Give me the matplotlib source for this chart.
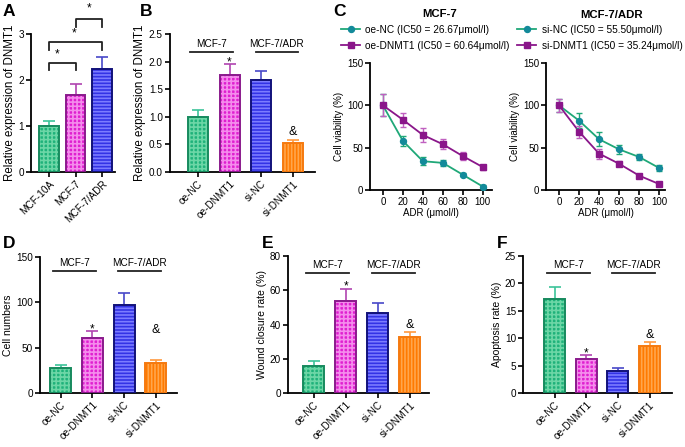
import matplotlib.pyplot as plt
import numpy as np

plt.rcParams["font.family"] = ["Liberation Sans", "DejaVu Sans"]
plt.rcParams["hatch.linewidth"] = 1.2

# ---- data ----
a_names = ["MCF-10A", "MCF-7", "MCF-7/ADR"]
a_vals = [1.0, 1.67, 2.25]
a_errs = [0.12, 0.24, 0.26]

groups = ["oe-NC", "oe-DNMT1", "si-NC", "si-DNMT1"]
b_vals = [1.0, 1.75, 1.67, 0.52]
b_errs = [0.12, 0.20, 0.16, 0.06]

d_vals = [27, 61, 97, 33]
d_errs = [4, 7, 13, 3]

e_vals = [16, 53.5, 47, 32.5]
e_errs = [2.5, 7.5, 5.5, 3]

f_vals = [17.2, 6.2, 4.0, 8.5]
f_errs = [2.1, 0.7, 0.5, 0.8]

dose = [0, 20, 40, 60, 80, 100]
oe_nc = [100, 58, 34, 32, 18, 4]
oe_nc_err = [13, 6, 5, 4, 2, 2]
oe_dnmt1 = [100, 83, 65, 54, 40, 27]
oe_dnmt1_err = [13, 8, 8, 6, 5, 3]
si_nc = [100, 82, 60, 48, 39, 26]
si_nc_err = [8, 9, 8, 5, 3, 3]
si_dnmt1 = [100, 69, 43, 31, 17, 7]
si_dnmt1_err = [8, 7, 6, 3, 2, 2]

# fill, hatch colour, edge, error bar colour, hatch pattern
styles = [
    ("#1fb27a", "#6cd6a6", "#178a5e", "#3cc39a", "++++"),
    ("#e01fd0", "#f48cec", "#8a1a8c", "#b044b0", "++++"),
    ("#3333e6", "#7c7cff", "#12127a", "#4848c8", "-----"),
    ("#ff7a00", "#ffa64d", "#f57a10", "#ff9a40", "|||||"),
]

fig = plt.figure(figsize=(6.85, 4.47), dpi=100)


def style_axis(ax, size=7.2):
    for s in ["top", "right"]:
        ax.spines[s].set_visible(False)
    for s in ["left", "bottom"]:
        ax.spines[s].set_linewidth(1.3)
    ax.tick_params(width=1.2, length=3.5, labelsize=size, pad=1.5)


def bar_panel(ax, names, vals, errs, sty, width, xlim, ylim, ticks, ylabel,
              fmt=None, xsize=7.5, ysize=7.5):
    x = np.arange(len(vals))
    for i in x:
        fc, hc, ec, erc, hatch = sty[i]
        ax.bar(i, vals[i], width, color=fc, edgecolor=hc, hatch=hatch, linewidth=0, zorder=2)
        ax.bar(i, vals[i], width, color="none", edgecolor=ec, linewidth=1.4, zorder=3)
        ax.errorbar(i, vals[i], yerr=[[0], [errs[i]]], fmt="none", ecolor=erc,
                    elinewidth=1.2, capsize=4, capthick=1.2, zorder=1)
    ax.set_xlim(*xlim)
    ax.set_ylim(*ylim)
    ax.set_yticks(ticks)
    if fmt:
        ax.set_yticklabels([fmt.format(t) for t in ticks])
    ax.set_xticks(x)
    ax.set_xticklabels(names, rotation=45, ha="right", rotation_mode="anchor", fontsize=xsize)
    ax.set_ylabel(ylabel, fontsize=ysize, labelpad=2)
    style_axis(ax)


def group_marks(ax, y, vals, errs, ytop, amp_y=None):
    for x0, x1, lab in [(-0.25, 1.12, "MCF-7"), (1.82, 3.16, "MCF-7/ADR")]:
        ax.plot([x0, x1], [y, y], color="#222222", lw=1.3, clip_on=False)
        ax.text((x0 + x1) / 2, y + ytop * 0.06, lab, ha="center", va="center", fontsize=7.2)
    ax.text(1, vals[1] + errs[1] + ytop * 0.015, "*", ha="center", va="center", fontsize=8.5)
    if amp_y is None:
        amp_y = vals[3] + errs[3] + ytop * 0.055
    ax.text(3, amp_y, "&", ha="center", va="center", fontsize=9)


# ---- A ----
axA = fig.add_axes([0.0453, 0.615, 0.1226, 0.309])
bar_panel(axA, a_names, a_vals, a_errs, styles[:3], 0.75, (-0.68, 2.49), (0, 3),
          [0, 1, 2, 3], "Relative expression of DNMT1", xsize=8, ysize=8.3)
for x0, x1, yb, yt, xs, ys in [(0, 1, 2.22, 2.37, 0.3, 2.55),
                               (0, 2, 2.65, 2.83, 0.95, 3.02),
                               (1, 2, 3.15, 3.33, 1.5, 3.55)]:
    axA.plot([x0, x0, x1, x1], [yb, yt, yt, yb], color="#222222", lw=1.3, clip_on=False)
    axA.text(xs, ys, "*", ha="center", va="center", fontsize=8.5)

# ---- B ----
axB = fig.add_axes([0.248, 0.615, 0.2117, 0.309])
bar_panel(axB, groups, b_vals, b_errs, styles, 0.63, (-0.88, 3.69), (0, 2.5),
          [0, 0.5, 1.0, 1.5, 2.0, 2.5], "Relative expression of DNMT1", fmt="{:.1f}",
          xsize=8, ysize=8.3)
group_marks(axB, 2.17, b_vals, b_errs, 2.5)

# ---- D ----
axD = fig.add_axes([0.058, 0.121, 0.2, 0.304])
bar_panel(axD, groups, d_vals, d_errs, styles, 0.66, (-0.66, 3.66), (0, 150),
          [0, 50, 100, 150], "Cell numbers")
group_marks(axD, 134.5, d_vals, d_errs, 150, amp_y=69)

# ---- E ----
axE = fig.add_axes([0.420, 0.121, 0.207, 0.306])
bar_panel(axE, groups, e_vals, e_errs, styles, 0.65, (-0.81, 3.62), (0, 80),
          [0, 20, 40, 60, 80], "Wound closure rate (%)")
group_marks(axE, 70, e_vals, e_errs, 80)

# ---- F ----
axF = fig.add_axes([0.7635, 0.121, 0.2175, 0.306])
bar_panel(axF, groups, f_vals, f_errs, styles, 0.66, (-1.0, 3.71), (0, 25),
          [0, 5, 10, 15, 20, 25], "Apoptosis rate (%)")
group_marks(axF, 21.9, f_vals, f_errs, 25)

# ---- C ----
nc_line, nc_mark = "#1fa878", "#138a9a"
dn_col = "#8a168a"


def curve_panel(ax, nc, nc_err, dn, dn_err, nc_lab, dn_lab, xlim, leg_x):
    ax.plot(dose, nc, color=nc_line, lw=1.3, zorder=2)
    ax.errorbar(dose, nc, yerr=nc_err, fmt="o", ms=4.3, color=nc_mark, ecolor=nc_line,
                elinewidth=1, capsize=2.5, zorder=3)
    ax.plot(dose, dn, color=dn_col, lw=1.3, zorder=2)
    ax.errorbar(dose, dn, yerr=dn_err, fmt="s", ms=4.3, color=dn_col, ecolor="#c060c0",
                elinewidth=1, capsize=2.5, zorder=3)
    h1 = plt.Line2D([], [], color=nc_line, marker="o", mfc=nc_mark, mec=nc_mark, ms=4.3, lw=1.3)
    h2 = plt.Line2D([], [], color=dn_col, marker="s", ms=4.3, lw=1.3)
    fig.legend([h1, h2], [nc_lab, dn_lab], loc="upper left", bbox_to_anchor=(leg_x, 0.944),
               frameon=False, fontsize=7.3, handlelength=1.9, handletextpad=0.5,
               labelspacing=0.55, borderaxespad=0, borderpad=0)
    ax.set_xlim(*xlim)
    ax.set_ylim(0, 150)
    ax.set_yticks([0, 50, 100, 150])
    ax.set_xticks(dose)
    ax.set_xlabel("ADR (μmol/l)", fontsize=7, labelpad=1)
    ax.set_ylabel("Cell viability (%)", fontsize=7, labelpad=2)
    style_axis(ax, size=7)


axC1 = fig.add_axes([0.540, 0.575, 0.178, 0.284])
curve_panel(axC1, oe_nc, oe_nc_err, oe_dnmt1, oe_dnmt1_err,
            "oe-NC (IC50 = 26.67μmol/l)", "oe-DNMT1 (IC50 = 60.64μmol/l)", (-13, 109), 0.498)
axC2 = fig.add_axes([0.797, 0.575, 0.174, 0.284])
curve_panel(axC2, si_nc, si_nc_err, si_dnmt1, si_dnmt1_err,
            "si-NC (IC50 = 55.50μmol/l)", "si-DNMT1 (IC50 = 35.24μmol/l)", (-13, 106), 0.755)

fig.text(440 / 685, 1 - 14 / 447, "MCF-7", ha="center", va="center", fontsize=8.2, fontweight="bold")
fig.text(612 / 685, 1 - 15 / 447, "MCF-7/ADR", ha="center", va="center", fontsize=8.2, fontweight="bold")

# panel letters
for lab, px, py in [("A", 3, 11), ("B", 140, 11), ("C", 333, 11),
                    ("D", 3, 244), ("E", 262, 244), ("F", 497, 244)]:
    fig.text(px / 685, 1 - py / 447, lab, ha="left", va="center", fontsize=12.5, fontweight="bold")

plt.savefig("out.png", dpi=100)
